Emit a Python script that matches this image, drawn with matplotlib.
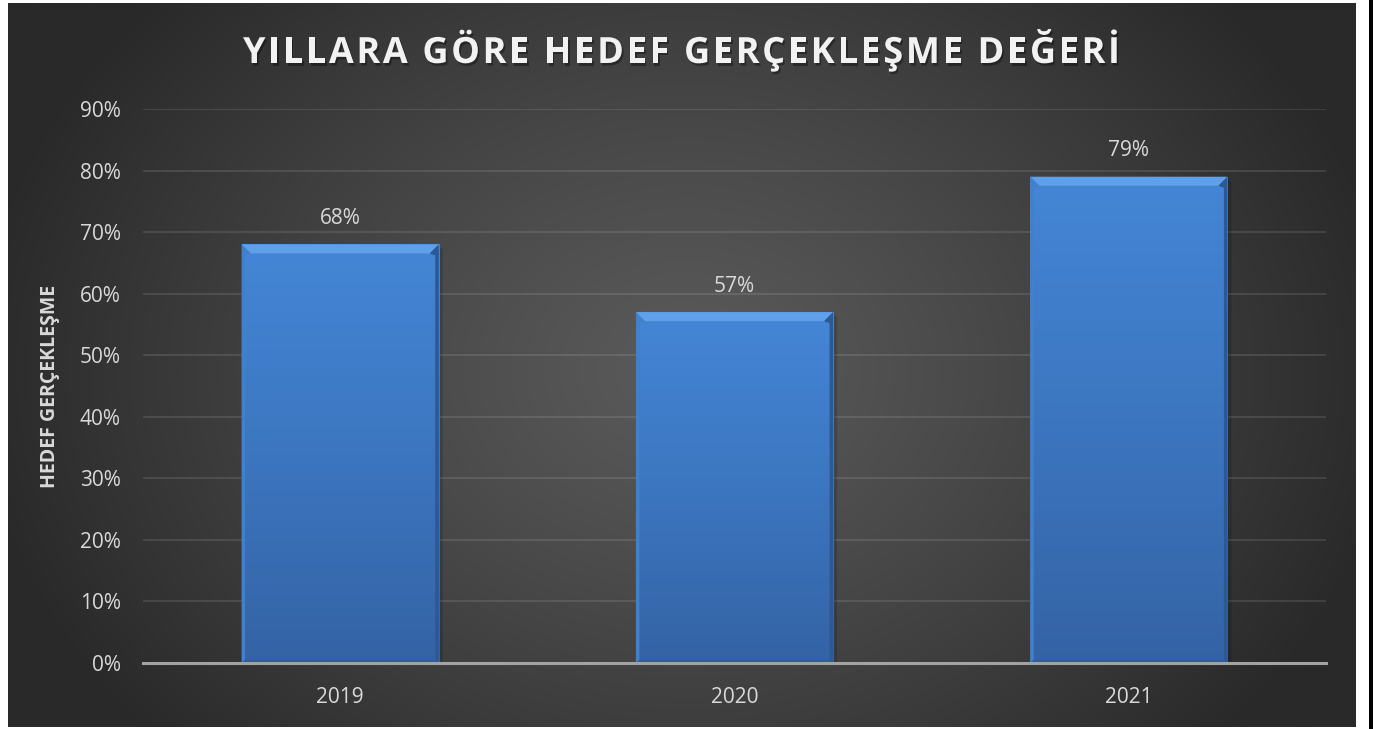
import numpy as np
import matplotlib
matplotlib.use("Agg")
import matplotlib.pyplot as plt
from matplotlib import patheffects as pe
from matplotlib.patches import Polygon, Rectangle
from matplotlib.font_manager import FontProperties
from matplotlib.colors import LinearSegmentedColormap
from matplotlib.transforms import IdentityTransform

years = ["2019", "2020", "2021"]
values = [0.68, 0.57, 0.79]
yticks = [0.0, 0.1, 0.2, 0.3, 0.4, 0.5, 0.6, 0.7, 0.8, 0.9]
ytick_labels = ["0%", "10%", "20%", "30%", "40%", "50%", "60%", "70%", "80%", "90%"]
title = "YILLARA GÖRE HEDEF GERÇEKLEŞME DEĞERİ"
ylabel = "HEDEF GERÇEKLEŞME"

W, H = 1373, 729
DPI = 100
fig = plt.figure(figsize=(W / DPI, H / DPI), dpi=DPI, facecolor="white")

# background panel with radial gradient
bg = fig.add_axes([0, 0, 1, 1], zorder=-10)
bg.set_xlim(0, W)
bg.set_ylim(H, 0)
bg.axis("off")
xx, yy = np.meshgrid(np.linspace(8, 1356, 400), np.linspace(3, 727, 220))
r = np.sqrt(((xx - 686) / 720.0) ** 2 + ((yy - 370) / 560.0) ** 2)
r = np.clip(r, 0, 1)
c_in, c_out = 0x5a / 255, 0x29 / 255
val = c_in + (c_out - c_in) * r ** 1.2
img = np.dstack([val, val, val])
bg.imshow(img, extent=[8, 1356, 727, 3], aspect="auto", interpolation="bilinear")
bg.add_patch(Rectangle((1369, 0), 4, H, color="black", lw=0))

# main axes
left, right, top, bottom = 143, 1326, 109, 663
ax = fig.add_axes([left / W, 1 - bottom / H, (right - left) / W, (bottom - top) / H])
ax.patch.set_alpha(0)
ax.set_xlim(-0.5, 2.5)
ax.set_ylim(0, 0.9)
for s in ["top", "right", "left"]:
    ax.spines[s].set_visible(False)
ax.spines["bottom"].set_color("#a3a3a3")
ax.spines["bottom"].set_linewidth(2.2)
ax.spines["bottom"].set_zorder(5)
ax.set_yticks(yticks)
ax.set_yticklabels(ytick_labels)
ax.set_xticks(range(len(years)))
ax.set_xticklabels(years)
ax.tick_params(axis="both", length=0, colors="#d9d9d9", labelsize=15)
ax.tick_params(axis="y", pad=16)
ax.tick_params(axis="x", pad=17)
for lab in ax.get_xticklabels() + ax.get_yticklabels():
    lab.set_fontfamily("Open Sans")
ax.grid(axis="y", color="white", alpha=0.11, lw=1.4)
ax.set_axisbelow(True)

ax.set_ylabel(ylabel, fontfamily="Open Sans", fontweight="bold", fontsize=14,
              color="#d9d9d9", labelpad=14)

bars = ax.bar(range(len(years)), values, width=0.5, color="none", zorder=2)

cmap = LinearSegmentedColormap.from_list("barg", ["#3463a5", "#3c76c0", "#4486d6"])
grad = np.linspace(0, 1, 256).reshape(-1, 1)
fig.canvas.draw()
T = ax.transData
for b in bars:
    x0, y0 = b.get_x(), b.get_y()
    x1, y1 = x0 + b.get_width(), y0 + b.get_height()
    im = ax.imshow(grad, extent=[x0, x1, y0, y1], origin="lower", cmap=cmap,
                   aspect="auto", zorder=2, interpolation="bilinear")
    im.set_clip_path(b)
    # bevel polygons in pixel space
    (px0, py0), (px1, py1) = T.transform([(x0, y0), (x1, y1)])
    bv = 9
    sw = 3.5
    # top bevel (light)
    ax.add_patch(Polygon([(px0, py1), (px1, py1), (px1 - bv, py1 - bv), (px0 + bv, py1 - bv)],
                         closed=True, transform=IdentityTransform(), facecolor="#60a0ea",
                         edgecolor="none", zorder=3))
    # right bevel (dark)
    ax.add_patch(Polygon([(px1, py1), (px1, py0), (px1 - sw, py0 + 3),
                          (px1 - sw, py1 - bv - 2), (px1 - bv, py1 - bv)],
                         closed=True, transform=IdentityTransform(), facecolor="#2d5890",
                         edgecolor="none", zorder=3))
    # left bevel (slightly light)
    ax.add_patch(Polygon([(px0, py1), (px0 + bv, py1 - bv), (px0 + sw, py1 - bv - 2),
                          (px0 + sw, py0 + 3), (px0, py0)],
                         closed=True, transform=IdentityTransform(), facecolor="#4180cc",
                         edgecolor="none", zorder=3))
    # bottom bevel (dark)
    ax.add_patch(Polygon([(px0, py0), (px0 + sw, py0 + 3), (px1 - sw, py0 + 3), (px1, py0)],
                         closed=True, transform=IdentityTransform(), facecolor="#2f5c98",
                         edgecolor="none", zorder=3))
    # subtle shadow at right
    ax.add_patch(Polygon([(px1, py1 - 2), (px1 + 4, py1 - 5), (px1 + 4, py0), (px1, py0)],
                         closed=True, transform=IdentityTransform(), facecolor="black",
                         alpha=0.15, edgecolor="none", zorder=1.9))
    ax.annotate(f"{b.get_height() * 100:.0f}%", (b.get_x() + b.get_width() / 2, y1),
                xytext=(0, 11), textcoords="offset points", ha="center", va="bottom",
                fontsize=15, color="#d9d9d9", fontfamily="Open Sans")

# letter-spaced title with shadow
fp = FontProperties(family="Open Sans", weight="bold", size=26)
renderer = fig.canvas.get_renderer()


def text_w(s):
    t = fig.text(0, 0, s, fontproperties=fp)
    w = t.get_window_extent(renderer).width
    t.remove()
    return w


wH = text_w("H")
natural = text_w(title)
target_w = 877.0
n = len(title)
sp = (target_w - natural) / (n - 1)
x_start = 243.0
baseline = H - 63.0
for i, ch in enumerate(title):
    if ch == " ":
        continue
    off = (text_w(title[:i] + "H") - wH) if i > 0 else 0.0
    fig.text((x_start + off + i * sp) / W, baseline / H, ch, fontproperties=fp,
             color="#f2f2f2", ha="left", va="baseline",
             path_effects=[pe.withSimplePatchShadow(offset=(1.2, -1.8), shadow_rgbFace="black",
                                                     alpha=0.35)])

fig.savefig("out.png", dpi=DPI, facecolor="white")
